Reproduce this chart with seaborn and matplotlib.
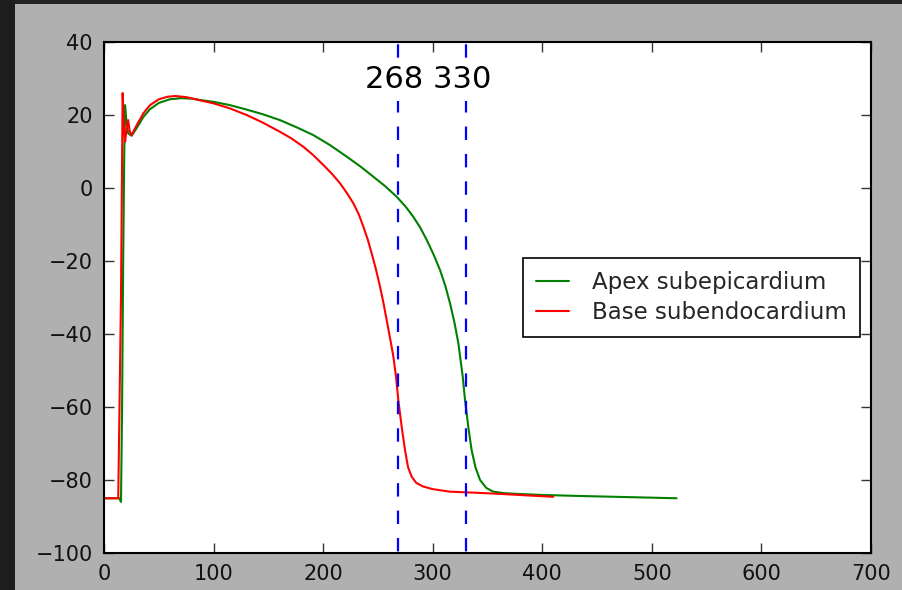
import numpy as np
import pandas as pd
import matplotlib
matplotlib.use("Agg")
import matplotlib.pyplot as plt
from matplotlib.patches import Rectangle
from matplotlib.lines import Line2D
import seaborn as sns

# ---- data ----
apex_t = [0, 14, 15.5, 16.5, 17.5, 18.5, 19.2, 20.5, 22, 25.2, 30, 36, 42, 50, 60, 70, 80,
          88, 100, 115, 130, 145, 160.6, 176, 191, 206, 221.5, 234, 245.8, 257, 267.1,
          275, 282.3, 288.5, 294.5, 300.6, 306.7, 311.5, 315.8, 319.8, 323.4, 327.4,
          329.5, 332.5, 335.5, 339, 343.2, 349, 355.3, 365, 376.6, 400, 437.4, 480, 522.6]
apex_v = [-85, -85, -86, -60, -20, 10, 22.7, 18, 15, 14.3, 16.5, 19.5, 21.6, 23.3, 24.3, 24.6, 24.5,
          24.1, 23.6, 22.7, 21.5, 20.2, 18.6, 16.6, 14.5, 11.8, 8.6, 5.9, 3.1, 0.4, -2.4,
          -5.0, -7.9, -10.8, -14.2, -18.1, -22.5, -26.8, -31.6, -36.8, -42.5, -51.7,
          -58.1, -65.5, -71.8, -76.5, -80.0, -82.2, -83.2, -83.6, -83.8, -84.1, -84.4, -84.7, -85.0]

base_t = [0, 13, 15.5, 17, 18.5, 19.3, 20.5, 22, 23.5, 25.2, 30, 36, 42, 50, 58, 65, 75, 88,
          99.8, 115, 130.2, 145, 160.6, 171, 181.9, 191, 200.2, 208, 215.4, 221.5, 227.6,
          232.5, 236.7, 240.7, 244.3, 248.2, 251.9, 255.1, 258.0, 261.1, 264.1, 266.5,
          268.6, 271.5, 274.7, 277.5, 280.8, 285, 291.4, 300, 315.8, 340, 361.4, 385, 410]
base_v = [-85, -85, -30, 26, 15, 12.7, 16, 18.6, 15.5, 14.5, 17.3, 20.5, 22.7, 24.3, 25.0, 25.2, 24.9, 24.0,
          23.2, 21.8, 20.0, 17.9, 15.4, 13.6, 11.3, 9.0, 6.3, 3.9, 1.3, -1.3, -4.2,
          -7.2, -10.6, -14.1, -17.9, -22.3, -27.0, -31.6, -36.2, -41.2, -46.2, -51.7,
          -58.1, -65.0, -71.8, -76.5, -79.1, -80.8, -81.8, -82.5, -83.2, -83.5, -83.8, -84.2, -84.6]

series_names = ["Apex subepicardium", "Base subendocardium"]
series_colors = ["#008000", "#ff0000"]
vlines_x = [268, 330]
annot_text = "268 330"
xticks = [0, 100, 200, 300, 400, 500, 600, 700]
yticks = [-100, -80, -60, -40, -20, 0, 20, 40]

df = pd.concat([
    pd.DataFrame({"t": apex_t, "v": apex_v, "s": series_names[0]}),
    pd.DataFrame({"t": base_t, "v": base_v, "s": series_names[1]}),
], ignore_index=True)

sns.set_style("white")
plt.rcParams["font.family"] = ["DejaVu Sans"]
plt.rcParams["lines.scale_dashes"] = False

W, H, DPI = 902, 590, 100
fig = plt.figure(figsize=(W / DPI, H / DPI), dpi=DPI, facecolor="#b0b0b0")
# window chrome: dark strips at top and left
fig.patches.append(Rectangle((0, 1 - 4 / H), 1, 4 / H, transform=fig.transFigure,
                             facecolor="#232323", edgecolor="none", zorder=-1))
fig.patches.append(Rectangle((0, 0), 15 / W, 1, transform=fig.transFigure,
                             facecolor="#1e1e1e", edgecolor="none", zorder=-1))

ax = fig.add_axes([104 / W, 1 - 553 / H, (871 - 104) / W, (553 - 42) / H])
ax.set_facecolor("white")

sns.lineplot(data=df, x="t", y="v", hue="s", palette=dict(zip(series_names, series_colors)),
             sort=False, estimator=None, linewidth=1.5, ax=ax, legend=False)

for xv in vlines_x:
    ax.axvline(xv, color="#0000ff", linestyle=(18.6, (9.65, 10.1)), linewidth=1.6, zorder=2)

ax.text(238, 27.4, annot_text, fontsize=22, ha="left", va="baseline", color="black",
        zorder=5, bbox=dict(facecolor="white", edgecolor="none", pad=5))

ax.set_xlim(0, 700)
ax.set_ylim(-100, 40)
ax.set_xticks(xticks)
ax.set_yticks(yticks)
ax.set_xlabel("")
ax.set_ylabel("")
for sp in ax.spines.values():
    sp.set_visible(True)
    sp.set_color("black")
    sp.set_linewidth(1.5)
ax.tick_params(direction="in", length=7, width=1, color="#333333",
               top=True, right=True, bottom=True, left=True,
               labelsize=15, pad=8, labelcolor="#111111")

handles = [Line2D([], [], color=c, linewidth=1.5) for c in series_colors]
leg = ax.legend(handles, series_names, loc="center right", fontsize=16.5,
                frameon=True, fancybox=False, shadow=False, framealpha=1,
                borderaxespad=0.5, handlelength=1.45, handletextpad=1.0,
                borderpad=0.55, labelspacing=0.3)
leg.get_frame().set_edgecolor("black")
leg.get_frame().set_linewidth(1.2)

fig.savefig("out.png", dpi=DPI, facecolor=fig.get_facecolor())
